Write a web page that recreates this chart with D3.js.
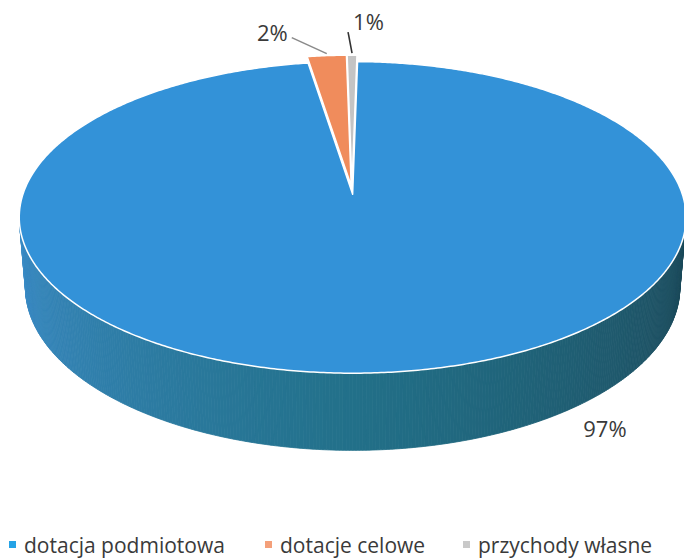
<!DOCTYPE html>
<html>
<head>
<meta charset="utf-8">
<script src="https://cdn.jsdelivr.net/npm/d3@7"></script>
<style>
  body { margin: 0; background: #fff; }
</style>
</head>
<body>
<svg id="chart" width="684" height="559"></svg>
<script>
// DATA
const categories = ["dotacja podmiotowa", "dotacje celowe", "przychody własne"];
const values = [97.25, 2.2, 0.55];
const topColors = ["#3392d8", "#f08c5c", "#c4c4c4"];
const legendColors = ["#25a3e6", "#f4a07a", "#c9c9c9"];

const svg = d3.select("#chart");
const rad = (deg) => (deg * Math.PI) / 180;

// 3D view of the pie (unit radius disc, perspective camera)
const cx = 352, cy = 190;
const D = 6, SD = 1970;
const depth = 0.241, explode = 0.028;
const tilt = rad(27.4), ct = Math.cos(tilt), st = Math.sin(tilt);

function project(u, v, w) {
  const d = v * ct + w * st;
  const k = SD / (D - d);
  return [cx + u * k, cy - (w * ct - v * st) * k];
}

function rim(a, r, w, off) {
  return project(off[0] + r * Math.sin(a), off[1] - r * Math.cos(a), w);
}

const pie = d3.pie().sort(null).startAngle(rad(1)).endAngle(rad(361));
const arcs = pie(values);
const total = d3.sum(values);
arcs.forEach((a) => {
  const m = (a.startAngle + a.endAngle) / 2;
  a.mid = m;
  a.off = [explode * Math.sin(m), -explode * Math.cos(m)];
});

const sideColor = d3.scaleLinear()
  .domain([100, 180, 260])
  .range(["#1c4858", "#227089", "#3b8bc6"])
  .clamp(true);

const line = d3.line();

// SIDES
const sideG = svg.append("g");
arcs.forEach((a) => {
  const step = rad(0.5);
  for (let t = a.startAngle; t < a.endAngle; t += step) {
    const t2 = Math.min(t + step, a.endAngle);
    const tm = (t + t2) / 2;
    const nOff = a.off[0] * Math.sin(tm) - a.off[1] * Math.cos(tm);
    const facing = -D * ct * Math.cos(tm) - (1 + nOff);
    if (facing <= 0) continue;
    const deg = ((tm * 180) / Math.PI) % 360;
    const pts = [
      rim(t, 1, 0, a.off),
      rim(t2, 1, 0, a.off),
      rim(t2, 1, -depth, a.off),
      rim(t, 1, -depth, a.off),
    ];
    sideG.append("path")
      .attr("d", line(pts) + "Z")
      .attr("fill", sideColor(deg))
      .attr("stroke", sideColor(deg))
      .attr("stroke-width", 0.8);
  }
});

// TOPS
const topG = svg.append("g");
arcs.forEach((a, i) => {
  const pts = [project(a.off[0], a.off[1], 0)];
  const n = Math.max(2, Math.ceil((a.endAngle - a.startAngle) / rad(0.5)));
  for (let j = 0; j <= n; j++) {
    const t = a.startAngle + ((a.endAngle - a.startAngle) * j) / n;
    pts.push(rim(t, 1, 0, a.off));
  }
  topG.append("path")
    .attr("d", line(pts) + "Z")
    .attr("fill", topColors[i])
    .attr("stroke", "#ffffff")
    .attr("stroke-width", 1.5)
    .attr("stroke-linejoin", "round");
});

// LABELS
const fmt = (v) => Math.round((v / total) * 100) + "%";
const labelG = svg.append("g")
  .attr("font-family", "'Open Sans', 'DejaVu Sans', sans-serif")
  .attr("font-size", "22px")
  .attr("fill", "#3a3a3a");

// big slice: best-fit label below the right front of the side
{
  const a = arcs[0];
  const p = rim(rad(140), 1, -depth, a.off);
  labelG.append("text")
    .attr("x", p[0] + 18)
    .attr("y", p[1] + 36)
    .attr("text-anchor", "middle")
    .text(fmt(a.value));
}

// small slices: outside with leader lines
const leaders = [null, [-35, -16], [-4, -21]];
const textNudge = [null, [-4, 3], [5, -2]];
const anchors = [null, "end", "start"];
[1, 2].forEach((i) => {
  const a = arcs[i];
  const p0 = rim(a.mid, 1, 0, a.off);
  p0[1] -= 2;
  const p1 = [p0[0] + leaders[i][0], p0[1] + leaders[i][1]];
  labelG.append("line")
    .attr("x1", p0[0]).attr("y1", p0[1])
    .attr("x2", p1[0]).attr("y2", p1[1])
    .attr("stroke", i === 1 ? "#8a8a8a" : "#333")
    .attr("stroke-width", 1.6);
  labelG.append("text")
    .attr("x", p1[0] + textNudge[i][0])
    .attr("y", p1[1] + textNudge[i][1])
    .attr("text-anchor", anchors[i])
    .text(fmt(a.value));
});

// LEGEND
const legendX = [9, 265, 463];
const legendY = 545;
const legend = svg.append("g")
  .attr("font-family", "'Open Sans', 'DejaVu Sans', sans-serif")
  .attr("font-size", "21px")
  .attr("fill", "#3a3a3a");
categories.forEach((c, i) => {
  legend.append("rect")
    .attr("x", legendX[i])
    .attr("y", legendY - 4)
    .attr("width", 7)
    .attr("height", 7)
    .attr("fill", legendColors[i]);
  legend.append("text")
    .attr("x", legendX[i] + 15)
    .attr("y", legendY + 8)
    .text(c);
});
</script>
</body>
</html>
